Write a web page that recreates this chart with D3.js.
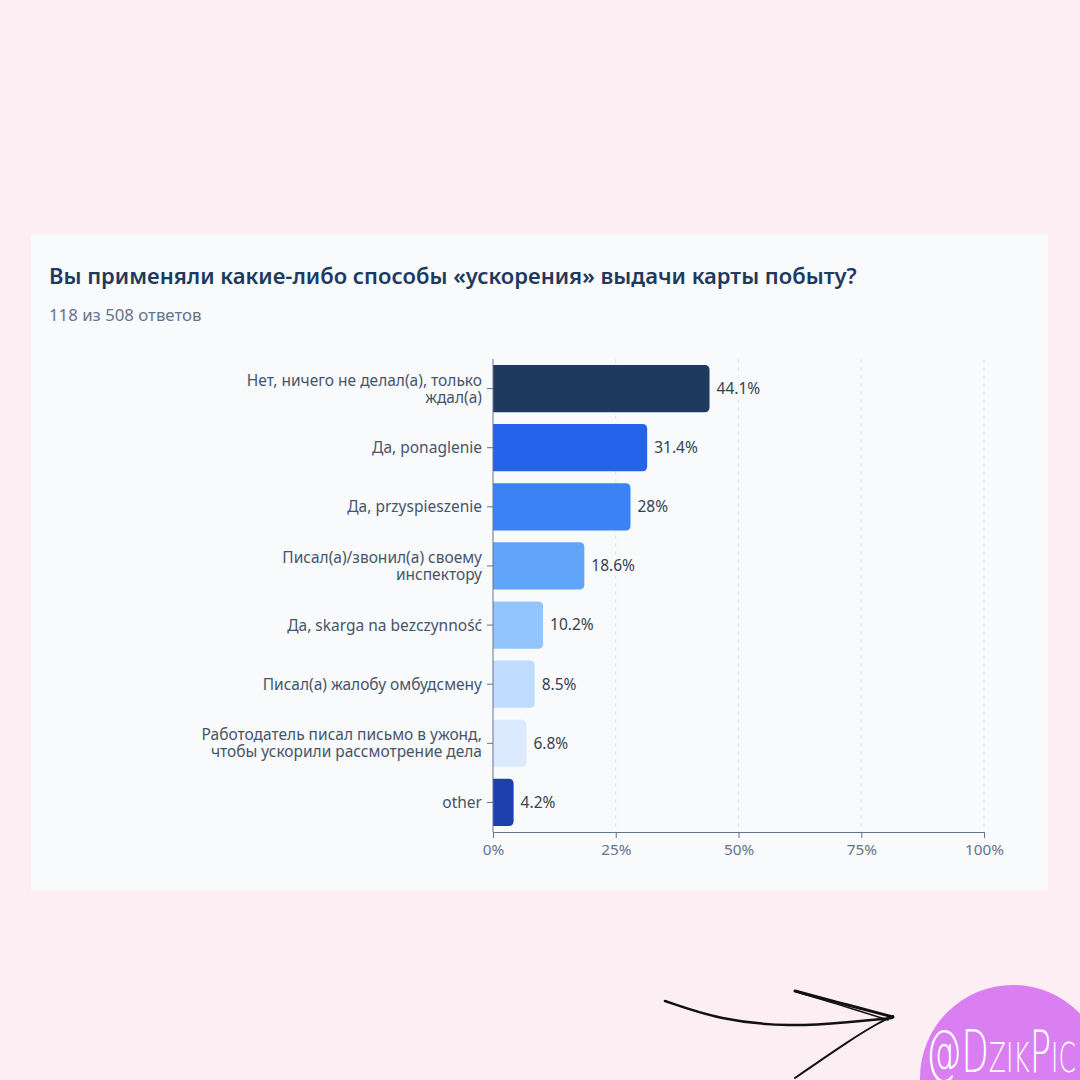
<!DOCTYPE html>
<html>
<head>
<meta charset="utf-8">
<script src="https://cdn.jsdelivr.net/npm/d3@7"></script>
<style>
  html, body { margin: 0; padding: 0; background: #fdeef4; }
  svg { display: block; }
</style>
</head>
<body>
<div class="chart"></div>
<script>
// data
const categories = [
  ['Нет, ничего не делал(а), только', 'ждал(а)'],
  ['Да, ponaglenie'],
  ['Да, przyspieszenie'],
  ['Писал(а)/звонил(а) своему', 'инспектору'],
  ['Да, skarga na bezczynność'],
  ['Писал(а) жалобу омбудсмену'],
  ['Работодатель писал письмо в ужонд,', 'чтобы ускорили рассмотрение дела'],
  ['other']
];
const values = [44.1, 31.4, 28, 18.6, 10.2, 8.5, 6.8, 4.2];
const xTicks = [0, 25, 50, 75, 100];
const barColors = ['#1e3a5f', '#2563eb', '#3b82f6', '#60a5fa', '#93c5fd', '#bfdbfe', '#dbeafe', '#1e40af'];
const title = 'Вы применяли какие-либо способы «ускорения» выдачи карты побыту?';
const subtitle = '118 из 508 ответов';

const width = 1080;
const height = 1080;
const font = '"Noto Sans", "Open Sans", sans-serif';

const svg = d3.select('.chart').append('svg')
  .attr('width', width).attr('height', height);

svg.append('rect').attr('width', width).attr('height', height).attr('fill', '#fdeef4');

// card
svg.append('rect')
  .attr('x', 31).attr('y', 234).attr('width', 1017).attr('height', 656)
  .attr('fill', '#f8fafc');

svg.append('text')
  .attr('x', 49).attr('y', 284)
  .attr('font-family', font).attr('font-size', 22).attr('font-weight', 600)
  .attr('fill', '#1e3a5f')
  .text(title);

svg.append('text')
  .attr('x', 49).attr('y', 321)
  .attr('font-family', font).attr('font-size', 16.8)
  .attr('fill', '#64748b')
  .text(subtitle);

const rows = categories.map((c, i) => ({lines: c, key: i, value: values[i], color: barColors[i]}));

const x = d3.scaleLinear().domain([0, 100]).range([493, 984]);
const y = d3.scaleBand().domain(rows.map(d => d.key)).range([359, 832]).paddingInner(0.2).paddingOuter(0.1);

// dashed grid
svg.append('g').selectAll('line').data(xTicks.slice(1)).enter()
  .append('line')
  .attr('x1', d => x(d)).attr('x2', d => x(d))
  .attr('y1', 359).attr('y2', 832)
  .attr('stroke', '#e2e8f0').attr('stroke-dasharray', '4,4');

// bars: rounded right side only
const r = 5;
svg.append('g').selectAll('path').data(rows).enter()
  .append('path')
  .attr('fill', d => d.color)
  .attr('d', d => {
    const x0 = x(0), x1 = x(d.value), y0 = y(d.key), h = y.bandwidth();
    return `M${x0},${y0}H${x1 - r}Q${x1},${y0} ${x1},${y0 + r}V${y0 + h - r}Q${x1},${y0 + h} ${x1 - r},${y0 + h}H${x0}Z`;
  });

// value labels
svg.append('g').selectAll('text').data(rows).enter()
  .append('text')
  .attr('x', d => x(d.value) + 7)
  .attr('y', d => y(d.key) + y.bandwidth() / 2)
  .attr('dy', '0.35em')
  .attr('font-family', font).attr('font-size', 15.5)
  .attr('fill', '#374151')
  .text(d => `${d.value}%`);

// y axis
const yAxis = svg.append('g')
  .attr('transform', `translate(${x(0)},0)`)
  .call(d3.axisLeft(y).tickSize(6).tickFormat(''));
yAxis.select('.domain').attr('stroke', '#64748b').attr('d', `M0,359V832`);
yAxis.selectAll('.tick line').attr('stroke', '#64748b');
yAxis.selectAll('.tick').each(function(k) {
  const lines = rows[k].lines;
  const t = d3.select(this).append('text')
    .attr('x', -11).attr('text-anchor', 'end')
    .attr('font-family', font).attr('font-size', 15.5)
    .attr('fill', '#475569');
  lines.forEach((l, i) => {
    t.append('tspan').attr('x', -11)
      .attr('y', (i - (lines.length - 1) / 2) * 17)
      .attr('dy', '0.35em')
      .text(l);
  });
});

// x axis
const xAxis = svg.append('g')
  .attr('transform', 'translate(0,832)')
  .call(d3.axisBottom(x).tickValues(xTicks).tickSize(6).tickSizeOuter(0).tickFormat(d => d + '%'));
xAxis.select('.domain').attr('stroke', '#64748b');
xAxis.selectAll('.tick line').attr('stroke', '#64748b');
xAxis.selectAll('.tick text')
  .attr('font-family', font).attr('font-size', 15.3)
  .attr('fill', '#64748b').attr('dy', '0.9em');

// hand-drawn arrow and badge
const line = d3.line().curve(d3.curveBasis);
const arrow = svg.append('g').attr('fill', 'none').attr('stroke', '#111').attr('stroke-linecap', 'round');
arrow.append('path').attr('stroke-width', 2.5)
  .attr('d', line([[665, 1001], [720, 1020], [790, 1027], [850, 1022], [892, 1018]]));
arrow.append('path').attr('stroke-width', 3)
  .attr('d', line([[795, 991], [840, 1003], [893, 1017]]));
arrow.append('path').attr('stroke-width', 2)
  .attr('d', line([[893, 1016], [880, 1022], [850, 1040], [795, 1078]]));
arrow.append('path').attr('stroke-width', 1.5)
  .attr('d', line([[800, 993], [850, 1008], [888, 1020]]));

svg.append('circle').attr('cx', 1013).attr('cy', 1078).attr('r', 93).attr('fill', '#d97ff2');
svg.append('text')
  .attr('x', 926).attr('y', 1072)
  .attr('font-family', '"DejaVu Sans", sans-serif')
  .attr('font-size', 58).attr('font-weight', 200)
  .attr('font-variant', 'small-caps')
  .attr('fill', '#ffffff')
  .attr('textLength', 150).attr('lengthAdjust', 'spacingAndGlyphs')
  .text('@DzikPic');
</script>
</body>
</html>
